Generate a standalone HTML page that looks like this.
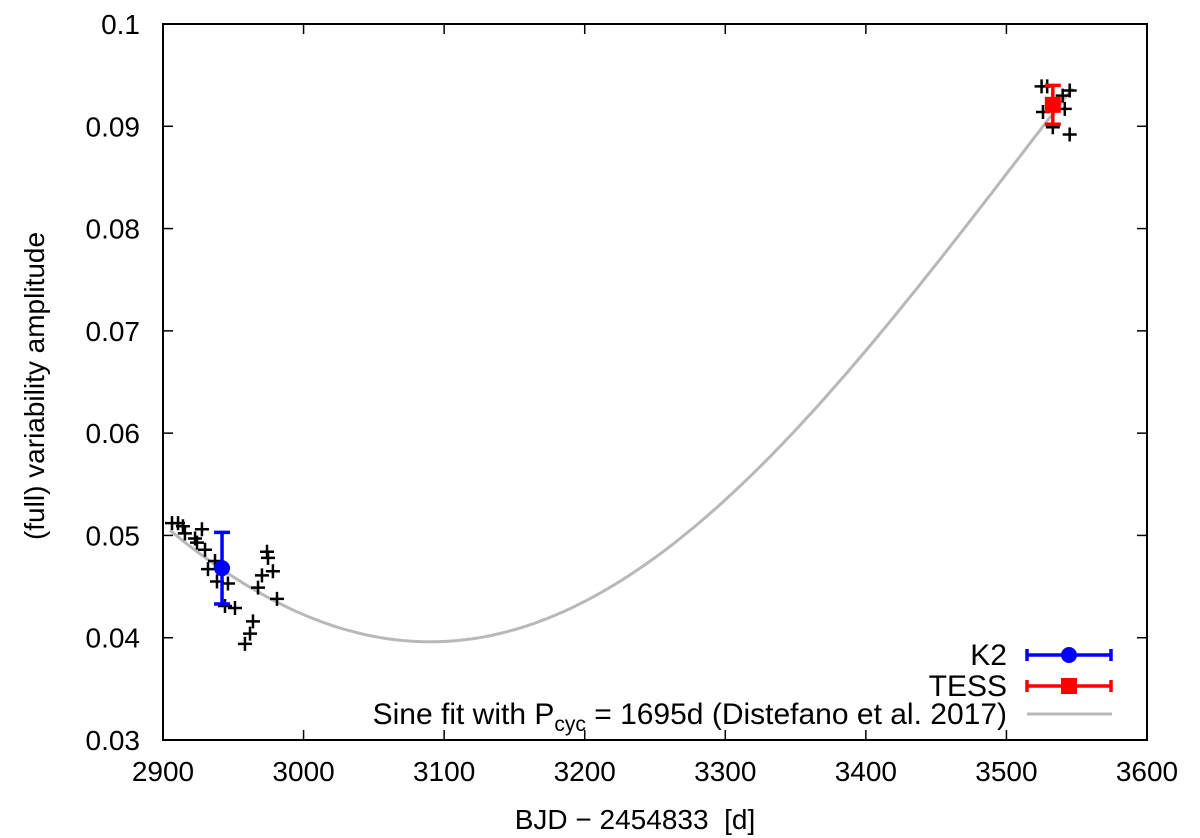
<!DOCTYPE html>
<html><head><meta charset="utf-8">
<style>
html,body{margin:0;padding:0;background:#fff;}
svg{display:block;font-family:"Liberation Sans",sans-serif;}
</style></head>
<body>
<svg id="chart" width="1200" height="838" viewBox="0 0 1200 838" xmlns="http://www.w3.org/2000/svg"></svg>
<script>
const xTicks=[2900,3000,3100,3200,3300,3400,3500,3600];
const yTicks=[0.03,0.04,0.05,0.06,0.07,0.08,0.09,0.1];
const yTickLabels=["0.03","0.04","0.05","0.06","0.07","0.08","0.09","0.1"];
const crossX=[2906.4,2910.7,2914.2,2915.6,2927.7,2922.8,2924.2,2929.9,2937,2932,2938.4,2946.2,2944.1,2951.2,2964,2961.9,2958.3,2974,2974.7,2978.2,2970.4,2967.6,2981.1,
 3525,3529,3545,3540,3526,3541.5,3533,3545];
const crossY=[0.0512,0.0512,0.0509,0.0502,0.0506,0.0497,0.0493,0.0486,0.0475,0.0467,0.0455,0.0453,0.0431,0.0429,0.0416,0.0404,0.0394,0.0484,0.0478,0.0465,0.0461,0.0449,0.0438,
 0.0939,0.0939,0.0935,0.0930,0.0914,0.0917,0.0899,0.0892];
const k2X=[2942], k2Y=[0.0468], k2Err=[0.0035];
const tessX=[3533], tessY=[0.0921], tessErr=[0.0019];
const fitPeriod=1695, fitMin=3090, fitC=0.0878, fitA=0.0482, fitStart=2905, fitEnd=3547;

const L=163,R=1147,T=24,B=740;
const sx=v=>L+(v-2900)/700*(R-L);
const sy=v=>B-(v-0.03)/0.07*(B-T);
const svg=document.getElementById('chart');
const NS='http://www.w3.org/2000/svg';
function mk(tag,attrs,parent){const e=document.createElementNS(NS,tag);for(const k in attrs)e.setAttribute(k,attrs[k]);(parent||svg).appendChild(e);return e;}

xTicks.forEach((t,i)=>{
 const x=sx(t);
 const g=mk('g',{});
 
 
 mk('line',{x1:x,y1:B,x2:x,y2:B-10,stroke:'#000','stroke-width':1.5},g);
 mk('line',{x1:x,y1:T,x2:x,y2:T+10,stroke:'#000','stroke-width':1.5},g);
 const tx=mk('text',{x:x,y:B+41,'text-anchor':'middle','font-size':28},g);tx.textContent=t;
});
yTicks.forEach((t,i)=>{
 const y=sy(t);
 const g=mk('g',{});
 
 
 mk('line',{x1:L,y1:y,x2:L+10,y2:y,stroke:'#000','stroke-width':1.5},g);
 mk('line',{x1:R,y1:y,x2:R-10,y2:y,stroke:'#000','stroke-width':1.5},g);
 const tx=mk('text',{x:140,y:y+10,'text-anchor':'end','font-size':28},g);tx.textContent=yTickLabels[i];
});
const frame=mk('rect',{x:L,y:T,width:R-L,height:B-T,fill:'none',stroke:'#000','stroke-width':2});



const xt=mk('text',{x:(L+R)/2-20,y:829,'text-anchor':'middle','font-size':28});


xt.textContent='BJD \u2212 2454833 \u00a0[d]';
const yt=mk('text',{x:0,y:0,'text-anchor':'middle','font-size':28,transform:'translate(44,'+((T+B)/2+4)+') rotate(-90)'});


yt.textContent='(full) variability amplitude';

let d='';
for(let x=fitStart;x<=fitEnd;x+=2){
 const y=fitC-fitA*Math.cos((x-fitMin)/fitPeriod*2*Math.PI);
 d+=(d?'L':'M')+sx(x).toFixed(1)+','+sy(y).toFixed(1);
}
const fit=mk('path',{d:d,fill:'none',stroke:'#b8b8b8','stroke-width':3});



crossX.forEach((v,i)=>{
 const x=sx(v),y=sy(crossY[i]);
 const p=mk('path',{d:`M${x-7},${y}H${x+7}M${x},${y-7}V${y+7}`,stroke:'#000','stroke-width':2.5});
 
 
});

function errPoint(x,y,e,color,shape,name){
 const g=mk('g',{});
 
 
 const X=sx(x),Y=sy(y),y1=sy(y+e),y2=sy(y-e);
 mk('path',{d:`M${X},${y1}V${y2}M${X-8},${y1}H${X+8}M${X-8},${y2}H${X+8}`,stroke:color,'stroke-width':3.5,fill:'none'},g);
 if(shape==='c')mk('circle',{cx:X,cy:Y,r:8,fill:color},g);
 else mk('rect',{x:X-8,y:Y-8,width:16,height:16,fill:color},g);
}
errPoint(k2X[0],k2Y[0],k2Err[0],'#0000ff','c','k2-point');
errPoint(tessX[0],tessY[0],tessErr[0],'#ff0000','s','tess-point');

function legend(y,label,color,shape,name){
 const g=mk('g',{});
 
 
 const t=mk('text',{x:1007,y:y+10,'text-anchor':'end','font-size':30},g);
 if(label==='sine'){
  t.innerHTML='Sine fit with P<tspan font-size="21" dy="7">cyc</tspan><tspan dy="-7"> = 1695d (Distefano et al. 2017)</tspan>';
  mk('line',{x1:1027,y1:y,x2:1112,y2:y,stroke:'#b8b8b8','stroke-width':3},g);
 } else {
  t.textContent=label;
  mk('path',{d:`M1027,${y}H1111M1027,${y-6}V${y+6}M1111,${y-6}V${y+6}`,stroke:color,'stroke-width':3.5,fill:'none'},g);
  if(shape==='c')mk('circle',{cx:1069,cy:y,r:8,fill:color},g);
  else mk('rect',{x:1061,y:y-8,width:16,height:16,fill:color},g);
 }
}
legend(655,'K2','#0000ff','c','legend-k2');
legend(686,'TESS','#ff0000','s','legend-tess');
legend(714,'sine','','','legend-sine-fit');
</script>
</body></html>
